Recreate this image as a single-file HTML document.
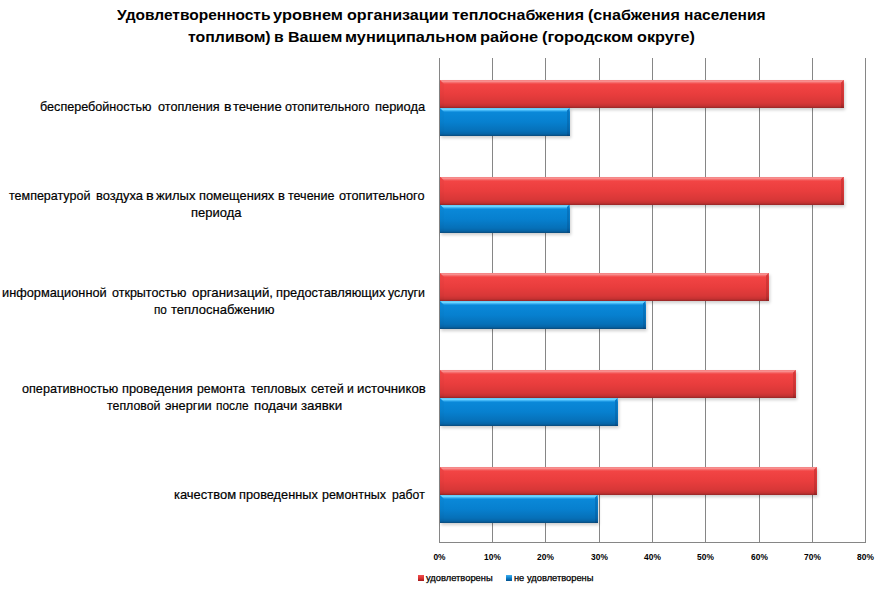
<!DOCTYPE html>
<html><head><meta charset="utf-8"><style>
html,body{margin:0;padding:0;background:#fff;}
body{width:881px;height:590px;position:relative;overflow:hidden;font-family:"Liberation Sans", sans-serif;color:#000;}
.t{position:absolute;white-space:pre;line-height:0;transform-origin:0 0;}
.r{-webkit-text-stroke:0.2px #000;}
.rl{-webkit-text-stroke:0.25px #000;}
.g{position:absolute;top:58px;height:484px;width:1px;background:#868686;}
.ax{position:absolute;left:439px;top:542px;width:427px;height:1px;background:#868686;}
.bar{position:absolute;left:440px;height:28px;box-shadow:1px 2px 3px rgba(0,0,0,0.2);}
.bar::before{content:"";position:absolute;left:0;top:0;width:4px;height:28px;clip-path:polygon(0 0,100% 4px,100% 100%,0 100%);}
.bar::after{content:"";position:absolute;right:0;top:0;width:3px;height:28px;clip-path:polygon(0 3px,100% 0,100% 100%,0 100%);}
.red{background:linear-gradient(to bottom,#f27474 0px,#f89a9a 1px,#f88282 2px,#f45a5a 3px,#f24444 4.5px,#e93d3d 14px,#d73737 23px,#c33131 26px,#942626 28px);}
.red::before{background:linear-gradient(to bottom,#ee4444 0,#ec4242 4.5px,#e53c3c 14px,#d33636 23px,#bf3030 26px,#922525 28px);}
.red::after{background:linear-gradient(to bottom,#d83a3a 0,#cf3434 14px,#bf3030 23px,#a82a2a 26px,#862222 28px);}
.blue{background:linear-gradient(to bottom,#4cbcf2 0px,#7adcff 1px,#5ccaff 2px,#28a2ea 3px,#0a88d8 4.5px,#0780cf 14px,#0670b8 23px,#0664a6 26px,#0a4a7a 28px);}
.blue::before{background:linear-gradient(to bottom,#0a88d8 0,#0985d4 4.5px,#077ecb 14px,#066eb5 23px,#0662a4 26px,#0a4878 28px);}
.blue::after{background:linear-gradient(to bottom,#0878c6 0,#0670b8 14px,#0664a8 23px,#065898 26px,#0a4070 28px);}
.tk{position:absolute;width:60px;text-align:center;font-size:8.4px;font-weight:700;line-height:10px;white-space:pre;}
.lg{position:absolute;width:6px;height:6px;}
</style></head><body>
<div class="t" style="left:116.50px;top:14.66px;font-size:15.4px;font-weight:700;transform:scaleX(1.0066)">Удовлетворенность</div>
<div class="t" style="left:273.20px;top:14.66px;font-size:15.4px;font-weight:700;transform:scaleX(1.0662)">уровнем</div>
<div class="t" style="left:346.60px;top:14.66px;font-size:15.4px;font-weight:700;transform:scaleX(1.0479)">организации</div>
<div class="t" style="left:451.60px;top:14.66px;font-size:15.4px;font-weight:700;transform:scaleX(1.0405)">теплоснабжения</div>
<div class="t" style="left:588.10px;top:14.66px;font-size:15.4px;font-weight:700;transform:scaleX(1.0460)">(снабжения</div>
<div class="t" style="left:684.19px;top:14.66px;font-size:15.4px;font-weight:700;transform:scaleX(1.0089)">населения</div>
<div class="t" style="left:187.50px;top:36.66px;font-size:15.4px;font-weight:700;transform:scaleX(1.0300)">топливом)</div>
<div class="t" style="left:274.28px;top:36.66px;font-size:15.4px;font-weight:700;transform:scaleX(1.0250)">в</div>
<div class="t" style="left:287.96px;top:36.66px;font-size:15.4px;font-weight:700;transform:scaleX(1.0420)">Вашем</div>
<div class="t" style="left:344.74px;top:36.66px;font-size:15.4px;font-weight:700;transform:scaleX(1.0610)">муниципальном</div>
<div class="t" style="left:479.94px;top:36.66px;font-size:15.4px;font-weight:700;transform:scaleX(1.0642)">районе</div>
<div class="t" style="left:542.10px;top:36.66px;font-size:15.4px;font-weight:700;transform:scaleX(1.0659)">(городском</div>
<div class="t" style="left:636.80px;top:36.66px;font-size:15.4px;font-weight:700;transform:scaleX(1.0519)">округе)</div>
<div class="t r" style="left:40.40px;top:107.32px;font-size:13.5px;font-weight:400;transform:scaleX(0.9336)">бесперебойностью</div>
<div class="t r" style="left:157.60px;top:107.32px;font-size:13.5px;font-weight:400;transform:scaleX(0.9369)">отопления</div>
<div class="t r" style="left:224.05px;top:107.32px;font-size:13.5px;font-weight:400;transform:scaleX(1.0500)">в</div>
<div class="t r" style="left:233.20px;top:107.32px;font-size:13.5px;font-weight:400;transform:scaleX(0.9720)">течение</div>
<div class="t r" style="left:284.50px;top:107.32px;font-size:13.5px;font-weight:400;transform:scaleX(0.9308)">отопительного</div>
<div class="t r" style="left:374.64px;top:107.32px;font-size:13.5px;font-weight:400;transform:scaleX(0.9558)">периода</div>
<div class="t r" style="left:9.30px;top:196.32px;font-size:13.5px;font-weight:400;transform:scaleX(0.9264)">температурой</div>
<div class="t r" style="left:95.74px;top:196.32px;font-size:13.5px;font-weight:400;transform:scaleX(0.9583)">воздуха</div>
<div class="t r" style="left:145.72px;top:196.32px;font-size:13.5px;font-weight:400;transform:scaleX(1.0833)">в</div>
<div class="t r" style="left:155.60px;top:196.32px;font-size:13.5px;font-weight:400;transform:scaleX(0.9634)">жилых</div>
<div class="t r" style="left:199.05px;top:196.32px;font-size:13.5px;font-weight:400;transform:scaleX(0.9513)">помещениях</div>
<div class="t r" style="left:277.83px;top:196.32px;font-size:13.5px;font-weight:400;transform:scaleX(0.9667)">в</div>
<div class="t r" style="left:288.10px;top:196.32px;font-size:13.5px;font-weight:400;transform:scaleX(0.9260)">течение</div>
<div class="t r" style="left:339.10px;top:196.32px;font-size:13.5px;font-weight:400;transform:scaleX(0.9429)">отопительного</div>
<div class="t r" style="left:190.84px;top:213.32px;font-size:13.5px;font-weight:400;transform:scaleX(0.9615)">периода</div>
<div class="t r" style="left:2.45px;top:293.32px;font-size:13.5px;font-weight:400;transform:scaleX(0.9459)">информационной</div>
<div class="t r" style="left:112.30px;top:293.32px;font-size:13.5px;font-weight:400;transform:scaleX(0.9275)">открытостью</div>
<div class="t r" style="left:192.30px;top:293.32px;font-size:13.5px;font-weight:400;transform:scaleX(0.9829)">организаций,</div>
<div class="t r" style="left:275.85px;top:293.32px;font-size:13.5px;font-weight:400;transform:scaleX(0.9491)">предоставляющих</div>
<div class="t r" style="left:388.20px;top:293.32px;font-size:13.5px;font-weight:400;transform:scaleX(0.9150)">услуги</div>
<div class="t r" style="left:154.13px;top:309.82px;font-size:13.5px;font-weight:400;transform:scaleX(0.8714)">по</div>
<div class="t r" style="left:170.60px;top:309.82px;font-size:13.5px;font-weight:400;transform:scaleX(0.9636)">теплоснабжению</div>
<div class="t r" style="left:21.50px;top:388.82px;font-size:13.5px;font-weight:400;transform:scaleX(0.9350)">оперативностью</div>
<div class="t r" style="left:122.35px;top:388.82px;font-size:13.5px;font-weight:400;transform:scaleX(0.9521)">проведения</div>
<div class="t r" style="left:196.99px;top:388.82px;font-size:13.5px;font-weight:400;transform:scaleX(0.9096)">ремонта</div>
<div class="t r" style="left:250.60px;top:388.82px;font-size:13.5px;font-weight:400;transform:scaleX(0.9200)">тепловых</div>
<div class="t r" style="left:310.60px;top:388.82px;font-size:13.5px;font-weight:400;transform:scaleX(0.9382)">сетей</div>
<div class="t r" style="left:346.90px;top:388.82px;font-size:13.5px;font-weight:400;transform:scaleX(0.9000)">и</div>
<div class="t r" style="left:357.12px;top:388.82px;font-size:13.5px;font-weight:400;transform:scaleX(0.9783)">источников</div>
<div class="t r" style="left:106.80px;top:405.72px;font-size:13.5px;font-weight:400;transform:scaleX(0.9155)">тепловой</div>
<div class="t r" style="left:165.40px;top:405.72px;font-size:13.5px;font-weight:400;transform:scaleX(0.9449)">энергии</div>
<div class="t r" style="left:216.32px;top:405.72px;font-size:13.5px;font-weight:400;transform:scaleX(0.8806)">после</div>
<div class="t r" style="left:254.32px;top:405.72px;font-size:13.5px;font-weight:400;transform:scaleX(0.9791)">подачи</div>
<div class="t r" style="left:300.60px;top:405.72px;font-size:13.5px;font-weight:400;transform:scaleX(0.9878)">заявки</div>
<div class="t r" style="left:173.84px;top:494.72px;font-size:13.5px;font-weight:400;transform:scaleX(0.9587)">качеством</div>
<div class="t r" style="left:238.95px;top:494.72px;font-size:13.5px;font-weight:400;transform:scaleX(0.9463)">проведенных</div>
<div class="t r" style="left:322.08px;top:494.72px;font-size:13.5px;font-weight:400;transform:scaleX(0.9235)">ремонтных</div>
<div class="t r" style="left:392.09px;top:494.72px;font-size:13.5px;font-weight:400;transform:scaleX(0.9057)">работ</div>
<div class="t rl" style="left:426.20px;top:577.69px;font-size:8.7px;font-weight:400;transform:scaleX(1.0742)">удовлетворены</div>
<div class="t rl" style="left:514.20px;top:577.69px;font-size:8.7px;font-weight:400;transform:scaleX(1.0667)">не</div>
<div class="t rl" style="left:527.20px;top:577.69px;font-size:8.7px;font-weight:400;transform:scaleX(1.0710)">удовлетворены</div>
<div class="g" style="left:439px"></div>
<div class="g" style="left:492px"></div>
<div class="g" style="left:545px"></div>
<div class="g" style="left:599px"></div>
<div class="g" style="left:652px"></div>
<div class="g" style="left:705px"></div>
<div class="g" style="left:759px"></div>
<div class="g" style="left:812px"></div>
<div class="g" style="left:865px"></div>
<div class="ax"></div>
<div class="bar red" style="top:80px;width:403.7px"></div>
<div class="bar blue" style="top:108px;width:129.5px"></div>
<div class="bar red" style="top:176.5px;width:403.6px"></div>
<div class="bar blue" style="top:204.5px;width:129.5px"></div>
<div class="bar red" style="top:273px;width:328.7px"></div>
<div class="bar blue" style="top:301px;width:205.5px"></div>
<div class="bar red" style="top:370px;width:355.7px"></div>
<div class="bar blue" style="top:398px;width:177.5px"></div>
<div class="bar red" style="top:467px;width:376.7px"></div>
<div class="bar blue" style="top:495px;width:157.5px"></div>
<div class="tk" style="left:409.50px;top:552px">0%</div>
<div class="tk" style="left:462.50px;top:552px">10%</div>
<div class="tk" style="left:515.50px;top:552px">20%</div>
<div class="tk" style="left:569.50px;top:552px">30%</div>
<div class="tk" style="left:622.50px;top:552px">40%</div>
<div class="tk" style="left:675.50px;top:552px">50%</div>
<div class="tk" style="left:729.50px;top:552px">60%</div>
<div class="tk" style="left:782.50px;top:552px">70%</div>
<div class="tk" style="left:835.50px;top:552px">80%</div>
<div class="lg" style="left:418px;top:575px;background:linear-gradient(#f25050,#d83030 55%,#a01c1c);"></div>
<div class="lg" style="left:506px;top:575px;background:linear-gradient(#40b0f0,#0a7cc8 55%,#04508c);"></div>
</body></html>
